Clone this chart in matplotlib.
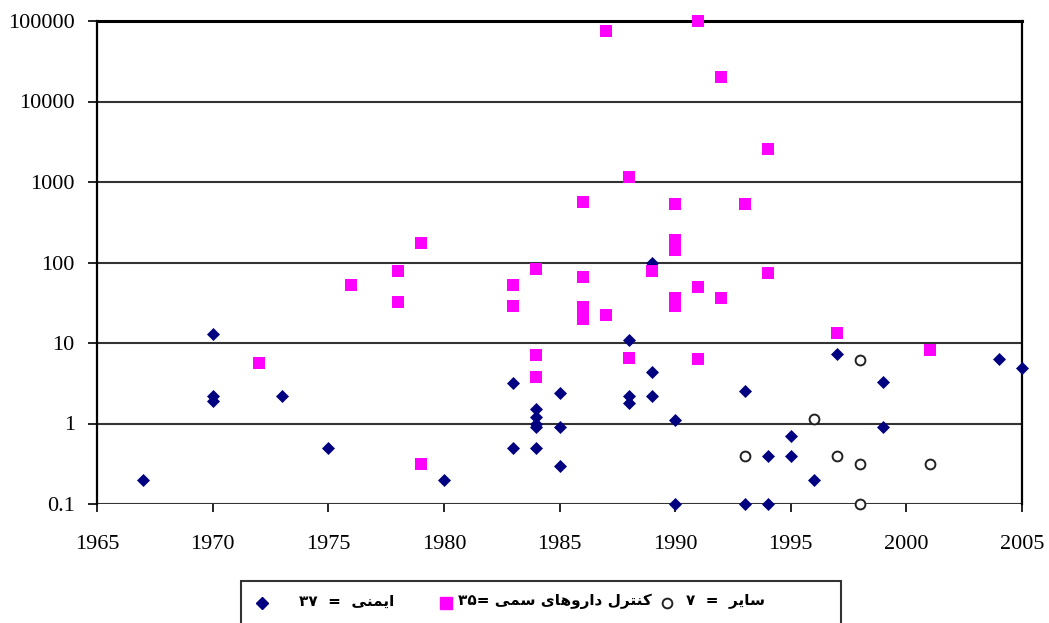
import re
import matplotlib
matplotlib.use("Agg")
import matplotlib.pyplot as plt
from matplotlib.lines import Line2D
from matplotlib.patches import Rectangle

# --- data ---
safety_years = [1967, 1970, 1970, 1970, 1973, 1975, 1980, 1983, 1983,
                1984, 1984, 1984, 1984, 1984, 1985, 1985, 1985,
                1988, 1988, 1988, 1989, 1989, 1989, 1990, 1990,
                1993, 1993, 1994, 1994, 1995, 1995, 1996, 1997,
                1999, 1999, 2004, 2005]
safety_vals = [0.2, 13, 2.2, 1.9, 2.2, 0.5, 0.2, 3.2, 0.5,
               1.5, 1.2, 1.0, 0.9, 0.5, 2.4, 0.9, 0.3,
               11, 2.2, 1.8, 100, 4.4, 2.2, 1.1, 0.1,
               2.5, 0.1, 0.4, 0.1, 0.69, 0.4, 0.2, 7.2,
               3.3, 0.9, 6.4, 4.9]

toxic_years = [1972, 1976, 1978, 1978, 1979, 1979, 1983, 1983,
               1984, 1984, 1984, 1986, 1986, 1986, 1986, 1987, 1987,
               1988, 1988, 1989, 1990, 1990, 1990, 1990, 1990,
               1991, 1991, 1991, 1992, 1992, 1993, 1994, 1994, 1997, 2001]
toxic_vals = [5.6, 53, 79, 32, 177, 0.31, 53, 29,
              84, 7, 3.8, 560, 67, 28, 20, 76000, 22,
              1140, 6.6, 78, 540, 190, 145, 36, 29,
              100000, 50, 6.4, 20000, 36, 540, 2600, 75, 13.5, 8.3]

other_years = [1993, 1996, 1997, 1998, 1998, 1998, 2001]
other_vals = [0.4, 1.15, 0.4, 6.2, 0.31, 0.1, 0.31]

x_ticks = [1965, 1970, 1975, 1980, 1985, 1990, 1995, 2000, 2005]
y_ticks = [0.1, 1, 10, 100, 1000, 10000, 100000]
y_tick_labels = ["0.1", "1", "10", "100", "1000", "10000", "100000"]

legend_labels = ["ایمنی  =  ۳۷", "کنترل داروهای سمی =۳۵", "سایر  =  ۷"]

# minimal Persian shaping (matplotlib has no bidi / joining support)
DUAL = {
    "ی": (0xFBFC, 0xFBFD, 0xFBFE, 0xFBFF),
    "م": (0xFEE1, 0xFEE2, 0xFEE3, 0xFEE4),
    "ن": (0xFEE5, 0xFEE6, 0xFEE7, 0xFEE8),
    "ک": (0xFB8E, 0xFB8F, 0xFB90, 0xFB91),
    "ت": (0xFE95, 0xFE96, 0xFE97, 0xFE98),
    "ل": (0xFEDD, 0xFEDE, 0xFEDF, 0xFEE0),
    "ه": (0xFEE9, 0xFEEA, 0xFEEB, 0xFEEC),
    "س": (0xFEB1, 0xFEB2, 0xFEB3, 0xFEB4),
}
RIGHT = {
    "ا": (0xFE8D, 0xFE8E),
    "ر": (0xFEAD, 0xFEAE),
    "د": (0xFEA9, 0xFEAA),
    "و": (0xFEED, 0xFEEE),
}


def shape(text):
    out = []
    for i, ch in enumerate(text):
        prev = text[i - 1] if i > 0 else ""
        nxt = text[i + 1] if i + 1 < len(text) else ""
        if ch in RIGHT:
            out.append(chr(RIGHT[ch][1 if prev in DUAL else 0]))
        elif ch in DUAL:
            jp = prev in DUAL
            jn = nxt in DUAL or nxt in RIGHT
            iso, fin, ini, med = DUAL[ch]
            out.append(chr(med if jp and jn else fin if jp else ini if jn else iso))
        else:
            out.append(ch)
    vis = "".join(reversed(out))
    return re.sub("[۰-۹]+", lambda m: m.group(0)[::-1], vis)


plt.rcParams["font.family"] = ["Liberation Serif", "DejaVu Serif"]

W, H = 1049, 623
fig = plt.figure(figsize=(W / 100, H / 100), dpi=100)
ax = fig.add_axes([97 / W, 1 - 504 / H, 925 / W, 483 / H])

ax.set_yscale("log")
ax.set_ylim(0.1, 100000)
ax.set_xlim(1965, 2005)

for v in y_ticks:
    ax.axhline(v, color="#333333", lw=1.5, zorder=1)

ax.scatter(safety_years, safety_vals, marker="D", s=44, color="#000080",
           linewidths=0, zorder=3, clip_on=False)
ax.scatter(toxic_years, toxic_vals, marker="s", s=70, color="#FF00FF",
           linewidths=0, zorder=4, clip_on=False)
ax.scatter(other_years, other_vals, marker="o", s=50, facecolors="white",
           edgecolors="#222222", linewidths=1.4, zorder=5, clip_on=False)

ax.set_xticks(x_ticks)
ax.set_xticklabels([str(t) for t in x_ticks])
ax.set_yticks(y_ticks)
ax.set_yticklabels(y_tick_labels)
ax.minorticks_off()
ax.tick_params(axis="both", direction="out", width=1.2, labelsize=16,
               colors="black")
ax.tick_params(axis="x", length=6, pad=16)
ax.tick_params(axis="y", length=6.5, pad=9.5)

for side in ["left", "right", "top"]:
    ax.spines[side].set_color("black")
    ax.spines[side].set_linewidth(1.6)
ax.spines["top"].set_linewidth(2.2)
ax.spines["bottom"].set_visible(False)

# legend box (its lower edge is cut off, as in the original)
fig.patches.append(Rectangle((241 / W, -0.05), 600 / W, 0.05 + 42 / H,
                             transform=fig.transFigure, fill=False,
                             edgecolor="#333333", lw=1.5))

marker_y = 1 - 603 / H
text_y = 1 - 601 / H
legend_markers = [
    dict(marker="D", color="#000080", markersize=6.5, x=262),
    dict(marker="s", color="#FF00FF", markersize=8, x=446),
    dict(marker="o", markerfacecolor="white", markeredgecolor="#222222",
         markeredgewidth=1.4, markersize=7, x=667),
]
legend_text_left = [299, 458, 686]
for style, label, xl in zip(legend_markers, legend_labels, legend_text_left):
    style = dict(style)
    xm = style.pop("x")
    fig.add_artist(Line2D([xm / W], [marker_y], transform=fig.transFigure,
                          ls="none", **style))
    fig.text(xl / W, text_y, shape(label), ha="left", va="center",
             family="DejaVu Sans", weight="bold", fontsize=11)

fig.savefig("out.png", dpi=100)
